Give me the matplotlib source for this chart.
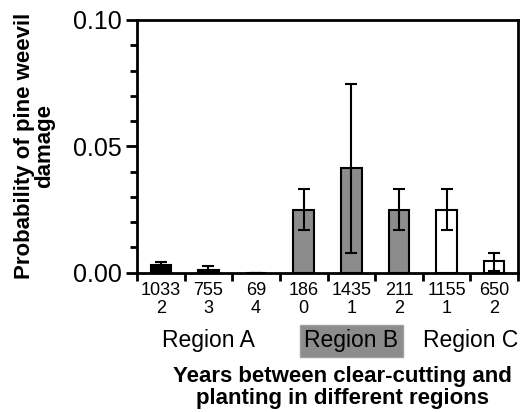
import numpy as np
import matplotlib
matplotlib.use("Agg")
import matplotlib.pyplot as plt
from matplotlib.ticker import MultipleLocator, FormatStrFormatter

plt.rcParams["font.family"] = ["Liberation Sans", "DejaVu Sans"]

# ---- data ----
n_plants = ["1033", "755", "69", "186", "1435", "211", "1155", "650"]
years = ["2", "3", "4", "0", "1", "2", "1", "2"]
prob = [0.003, 0.0012, 0.0, 0.025, 0.0415, 0.025, 0.025, 0.0047]
err_lo = [0.003, 0.0012, 0.0, 0.017, 0.0079, 0.017, 0.017, 0.0005]
err_hi = [0.0044, 0.0028, 0.0, 0.033, 0.0747, 0.033, 0.033, 0.0078]
region = ["A", "A", "A", "B", "B", "B", "C", "C"]
region_color = {"A": "black", "B": "#8c8c8c", "C": "white"}

fig = plt.figure(figsize=(5.23, 4.12), dpi=100)
ax = fig.add_axes([137/523, 1 - 272.7/412, 381/523, 252.7/412])

x = np.arange(len(prob))
prob = np.array(prob)
yerr = [prob - np.array(err_lo), np.array(err_hi) - prob]
ax.bar(x, prob, width=0.43, color=[region_color[r] for r in region],
       edgecolor="black", linewidth=1.5, zorder=2)
ax.errorbar(x, prob, yerr=yerr, fmt="none", ecolor="black", elinewidth=1.5,
            capsize=4, capthick=1.5, zorder=3)

ax.set_xlim(-0.5, len(prob) - 0.5)
ax.set_ylim(0, 0.1)
ax.yaxis.set_major_locator(MultipleLocator(0.05))
ax.yaxis.set_minor_locator(MultipleLocator(0.01))
ax.yaxis.set_major_formatter(FormatStrFormatter("%.2f"))
ax.tick_params(axis="y", which="major", labelsize=18, width=2, length=8, pad=3)
ax.tick_params(axis="y", which="minor", width=2, length=5)

# category labels, boundary ticks between them
ax.set_xticks(x)
ax.set_xticklabels([f"{n}\n{y}" for n, y in zip(n_plants, years)], fontsize=13,
                   linespacing=1.02)
ax.tick_params(axis="x", which="major", length=0, pad=7)
ax.set_xticks(np.arange(len(prob) + 1) - 0.5, minor=True)
ax.tick_params(axis="x", which="minor", length=6, width=2)

for s in ax.spines.values():
    s.set_linewidth(2)

# region labels
trans = ax.get_xaxis_transform()
ax.text(1.0, -0.27, "Region A", transform=trans, ha="center", va="center", fontsize=16.5)
ax.text(4.0, -0.27, "Region B", transform=trans, ha="center", va="center", fontsize=16.5,
        bbox=dict(boxstyle="square,pad=0.2", fc="#8c8c8c", ec="#a0a0a0"))
ax.text(6.5, -0.27, "Region C", transform=trans, ha="center", va="center", fontsize=16.5)

ax.set_ylabel("Probability of pine weevil\ndamage", fontsize=16, fontweight="bold",
              linespacing=0.95)
ax.yaxis.set_label_coords(-0.215, 0.5)
ax.set_xlabel("Years between clear-cutting and\nplanting in different regions",
              fontsize=16, fontweight="bold", linespacing=1.08)
ax.xaxis.set_label_coords(0.54, -0.37)
ax.xaxis.label.set_va("top")

fig.savefig("out.png", dpi=100)
